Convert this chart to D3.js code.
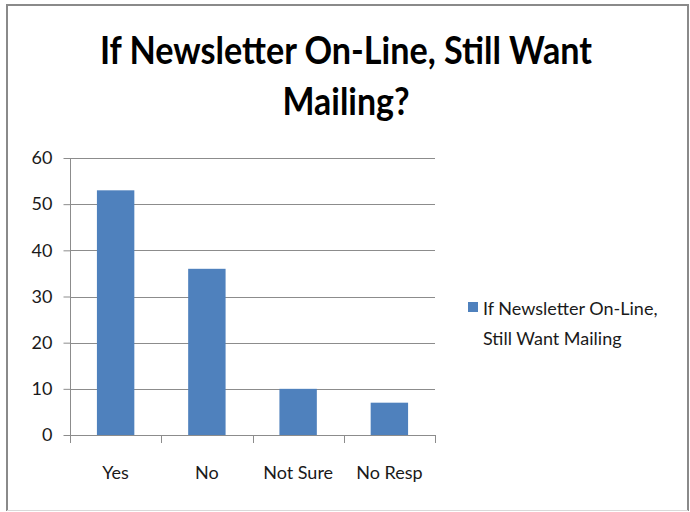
<!DOCTYPE html>
<html><head><meta charset="utf-8">
<script src="https://cdn.jsdelivr.net/npm/d3@7"></script>
<style>html,body{margin:0;padding:0;background:#fff;}svg{display:block;}</style>
</head><body>
<svg id="chart" width="690" height="512"></svg>
<script>
const categories = ["Yes", "No", "Not Sure", "No Resp"];
const values = [53, 36, 10, 7];
const yTicks = [0, 10, 20, 30, 40, 50, 60];
const seriesName = ["If Newsletter On-Line,", "Still Want Mailing"];
const titleLines = ["If Newsletter On-Line, Still Want", "Mailing?"];

const svg = d3.select("#chart");
const font = "Lato, 'Open Sans', sans-serif";
const textCol = "#1a1a1a";

// frame
svg.append("path").attr("d", "M7,511 V5 H688 V511").attr("fill", "none").attr("stroke", "#8a8a8a").attr("stroke-width", 2);
svg.append("line").attr("x1", 7).attr("x2", 688).attr("y1", 510.5).attr("y2", 510.5).attr("stroke", "#d9d9d9");

const x = d3.scaleBand().domain(categories).range([70, 435]).padding(0);
const y = d3.scaleLinear().domain([0, 60]).range([435, 158]);

// gridlines
svg.append("g").selectAll("line").data(yTicks.filter(d => d > 0)).join("line")
  .attr("x1", 70).attr("x2", 435)
  .attr("y1", d => Math.round(y(d)) + 0.5).attr("y2", d => Math.round(y(d)) + 0.5)
  .attr("stroke", "#8c8c8c").attr("stroke-width", 1);

// y axis
const yAxis = svg.append("g").attr("transform", "translate(70.5,0)")
  .call(d3.axisLeft(y).tickValues(yTicks).tickSize(7).tickPadding(11));
yAxis.select(".domain").attr("stroke", "#8c8c8c").attr("d", `M0,${y(60)}V${y(0)}`);
yAxis.selectAll(".tick line").attr("stroke", "#8c8c8c");
yAxis.selectAll(".tick text").attr("font-family", font).attr("font-size", 18).attr("fill", textCol);

// bars
const barW = x.bandwidth() * 0.41;
svg.append("g").selectAll("rect").data(values).join("rect")
  .attr("x", (d, i) => x(categories[i]) + (x.bandwidth() - barW) / 2)
  .attr("y", d => y(d))
  .attr("width", barW)
  .attr("height", d => y(0) - y(d))
  .attr("fill", "#4f81bd");

// x axis
const xAxis = svg.append("g").attr("transform", "translate(0,435.5)")
  .call(d3.axisBottom(x).tickSize(0).tickPadding(31));
xAxis.select(".domain").attr("stroke", "#8c8c8c").attr("d", "M70,0H435");
xAxis.selectAll(".tick text").attr("font-family", font).attr("font-size", 18).attr("fill", textCol);
const bounds = [70].concat(categories.map(c => x(c) + x.bandwidth()));
svg.append("g").selectAll("line").data(bounds).join("line")
  .attr("x1", d => Math.round(d) + 0.5).attr("x2", d => Math.round(d) + 0.5)
  .attr("y1", 435).attr("y2", 443)
  .attr("stroke", "#8c8c8c");

// title
const title = svg.append("g");
title.append("text").attr("x", 346).attr("y", 64).attr("text-anchor", "middle")
  .attr("font-family", font).attr("font-weight", "bold").attr("font-size", 38)
  .attr("textLength", 492).attr("lengthAdjust", "spacingAndGlyphs")
  .attr("fill", "#000").text(titleLines[0]);
title.append("text").attr("x", 346).attr("y", 115).attr("text-anchor", "middle")
  .attr("font-family", font).attr("font-weight", "bold").attr("font-size", 38)
  .attr("textLength", 127).attr("lengthAdjust", "spacingAndGlyphs")
  .attr("fill", "#000").text(titleLines[1]);

// legend
const lg = svg.append("g");
lg.append("rect").attr("x", 468).attr("y", 302).attr("width", 10).attr("height", 10).attr("fill", "#4f81bd");
lg.selectAll("text").data(seriesName).join("text")
  .attr("x", 483).attr("y", (d, i) => 315 + i * 30)
  .attr("font-family", font).attr("font-size", 18).attr("fill", textCol)
  .text(d => d);
</script>
</body></html>
